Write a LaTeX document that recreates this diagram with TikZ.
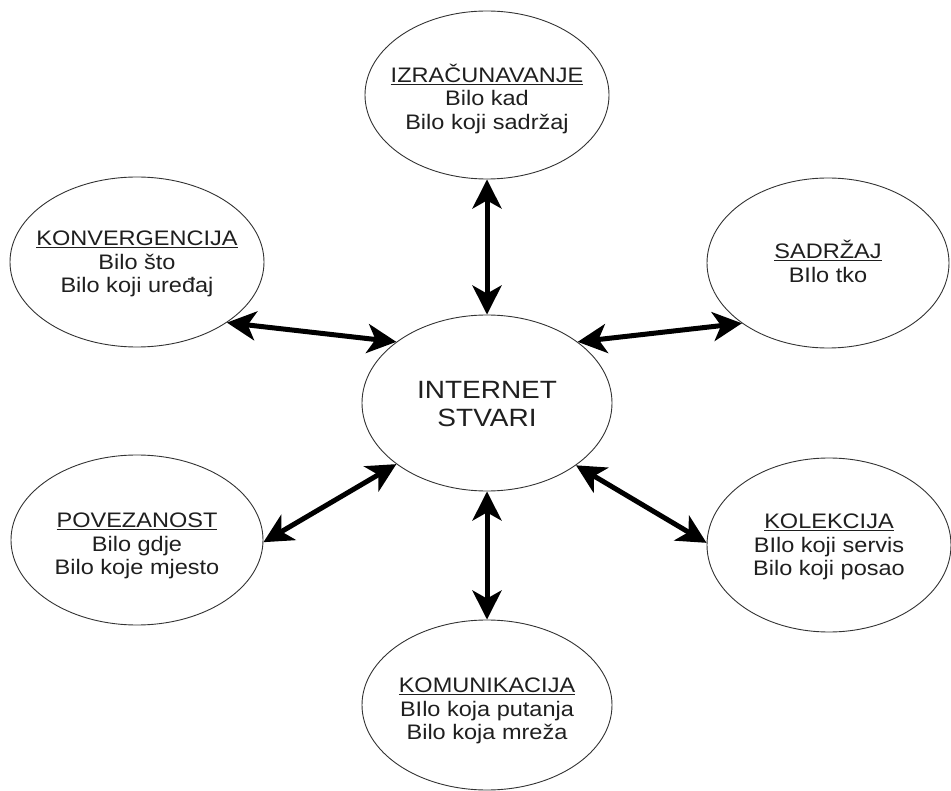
\documentclass[tikz,border=0pt]{standalone}
\usepackage{fontspec}
\setmainfont[FakeStretch=1.12]{Liberation Sans}
\usetikzlibrary{shapes.geometric,arrows.meta}
\tikzset{
  bubble/.style={ellipse, draw=black!80, line width=0.9pt, fill=white, inner sep=0pt},
  txt/.style={align=center, inner sep=0pt, font=\fontsize{21pt}{23.5pt}\selectfont, text=black!88},
  link/.style={line width=5pt, {Stealth[length=29pt,width=29pt,inset=8pt]}-{Stealth[length=29pt,width=29pt,inset=8pt]}, black}
}
\begin{document}
\begin{tikzpicture}[x=1pt,y=-1pt]
\useasboundingbox (0,0) rectangle (951,791);
\node[bubble, minimum width=250pt, minimum height=176pt] (c) at (487,403) {};
\node[bubble, minimum width=244pt, minimum height=168pt] (top) at (487,95) {};
\node[bubble, minimum width=254pt, minimum height=170pt] (ul) at (137,262) {};
\node[bubble, minimum width=242pt, minimum height=170pt] (ur) at (828,263) {};
\node[bubble, minimum width=252pt, minimum height=170pt] (ll) at (137,540) {};
\node[bubble, minimum width=244pt, minimum height=174pt] (lr) at (829,545) {};
\node[bubble, minimum width=250pt, minimum height=170pt] (bot) at (487,705) {};
\node[txt, font=\fontsize{25pt}{28.5pt}\selectfont] (ct) at ([yshift=-1pt]c.center) {INTERNET\\STVARI};
\node[txt] (topt) at ([yshift=-4pt]top.center) {\underline{IZRAČUNAVANJE}\\Bilo kad\\Bilo koji sadržaj};
\node[txt] (ult) at ([yshift=-2pt]ul.center) {\underline{KONVERGENCIJA}\\Bilo što\\Bilo koji uređaj};
\node[txt] (urt) at ([yshift=1.5pt]ur.center) {\underline{SADRŽAJ}\\BIlo tko};
\node[txt] (llt) at ([yshift=-6pt]ll.center) {\underline{POVEZANOST}\\Bilo gdje\\Bilo koje mjesto};
\node[txt] (lrt) at ([yshift=-2pt]lr.center) {\underline{KOLEKCIJA}\\BIlo koji servis\\Bilo koji posao};
\node[txt] (bott) at ([yshift=-6pt]bot.center) {\underline{KOMUNIKACIJA}\\BIlo koja putanja\\Bilo koja mreža};
\draw[link] (top.south) -- (c.north);
\draw[link] (c.south) -- (bot.north);
\draw[link] (ul.326) -- (c.146);
\draw[link] (c.34) -- (ur.215);
\draw[link] (ll.359) -- (c.214);
\draw[link] (c.325) -- (lr.179);
\end{tikzpicture}
\end{document}
